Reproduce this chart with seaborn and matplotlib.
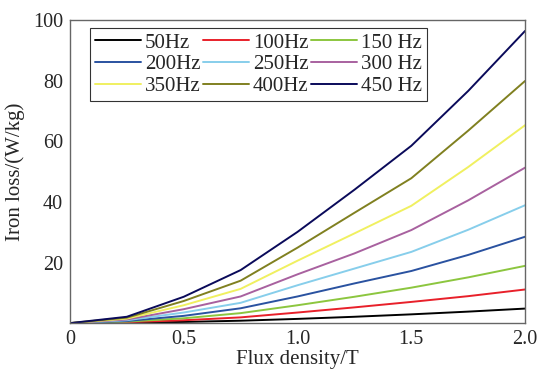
import numpy as np
import pandas as pd
import matplotlib
matplotlib.use("Agg")
import matplotlib.pyplot as plt
import seaborn as sns

# Data
flux = [0.0, 0.25, 0.5, 0.75, 1.0, 1.25, 1.5, 1.75, 2.0]
labels = ["50Hz", "100Hz", "150 Hz", "200Hz", "250Hz", "300 Hz", "350Hz", "400Hz", "450 Hz"]
loss_50 = [0, 0.15, 0.4, 0.8, 1.4, 2.1, 2.9, 3.8, 4.8]
loss_100 = [0, 0.3, 0.95, 1.9, 3.5, 5.2, 7.0, 8.9, 11.1]
loss_150 = [0, 0.5, 1.6, 3.3, 5.9, 8.7, 11.7, 15.1, 18.9]
loss_200 = [0, 0.7, 2.4, 4.9, 8.8, 13.1, 17.2, 22.5, 28.5]
loss_250 = [0, 0.95, 3.5, 6.7, 12.5, 18.0, 23.5, 30.8, 38.9]
loss_300 = [0, 1.2, 4.6, 8.8, 16.1, 23.0, 30.7, 40.5, 51.3]
loss_350 = [0, 1.5, 5.9, 11.3, 20.6, 29.6, 38.7, 51.5, 65.3]
loss_400 = [0, 1.8, 7.3, 14.0, 24.9, 36.4, 47.8, 63.5, 79.9]
loss_450 = [0, 2.1, 8.7, 17.5, 30.1, 44.0, 58.5, 76.6, 96.4]
series = [loss_50, loss_100, loss_150, loss_200, loss_250, loss_300, loss_350, loss_400, loss_450]
colors = ["#000000", "#e8202a", "#8cc63f", "#2a52a0", "#87ceeb", "#a8619f", "#f0f060", "#808020", "#0a0a5a"]

rows = []
for lab, vals in zip(labels, series):
    for b, v in zip(flux, vals):
        rows.append({"B": b, "loss": v, "freq": lab})
df = pd.DataFrame(rows)

sns.set_style("white")
plt.rcParams["font.family"] = ["Liberation Serif", "DejaVu Serif"]

fig = plt.figure(figsize=(5.38, 3.74), dpi=100)
ax = fig.add_axes([0.130, 0.136, 0.846, 0.8105])

sns.lineplot(data=df, x="B", y="loss", hue="freq", hue_order=labels,
             palette=dict(zip(labels, colors)), linewidth=1.4, ax=ax, legend=False)

ax.set_xlim(0, 2.0)
ax.set_ylim(0, 100)
ax.set_xticks([0, 0.5, 1.0, 1.5, 2.0])
ax.set_xticklabels(["0", "0.5", "1.0", "1.5", "2.0"])
ax.set_yticks([20, 40, 60, 80, 100])
ax.tick_params(axis="x", direction="in", length=6, width=0.8, color="#222222",
               labelsize=14.5, pad=5)
ax.tick_params(axis="y", direction="in", length=6, width=0.8, color="#777777",
               labelsize=14.5, pad=5)
for s in ax.spines.values():
    s.set_color("#666666")
    s.set_linewidth(1.0)
ax.set_xlabel("Flux density/T", fontsize=15, labelpad=1)
ax.set_ylabel("Iron loss/(W/kg)", fontsize=15, labelpad=6)

# legend in row-wise order
handles = {lab: plt.Line2D([], [], color=c, linewidth=1.4) for lab, c in zip(labels, colors)}
order = [0, 3, 6, 1, 4, 7, 2, 5, 8]
leg = ax.legend([handles[labels[i]] for i in order], [labels[i] for i in order],
                ncol=3, loc="upper left", bbox_to_anchor=(0.044, 0.974),
                borderaxespad=0, frameon=True, fancybox=False, fontsize=15,
                handlelength=2.2, handletextpad=0.2, columnspacing=0.1,
                labelspacing=0.1, borderpad=0.25)
leg.get_frame().set_edgecolor("#000000")
leg.get_frame().set_linewidth(0.8)

fig.savefig("out.png", dpi=100)
